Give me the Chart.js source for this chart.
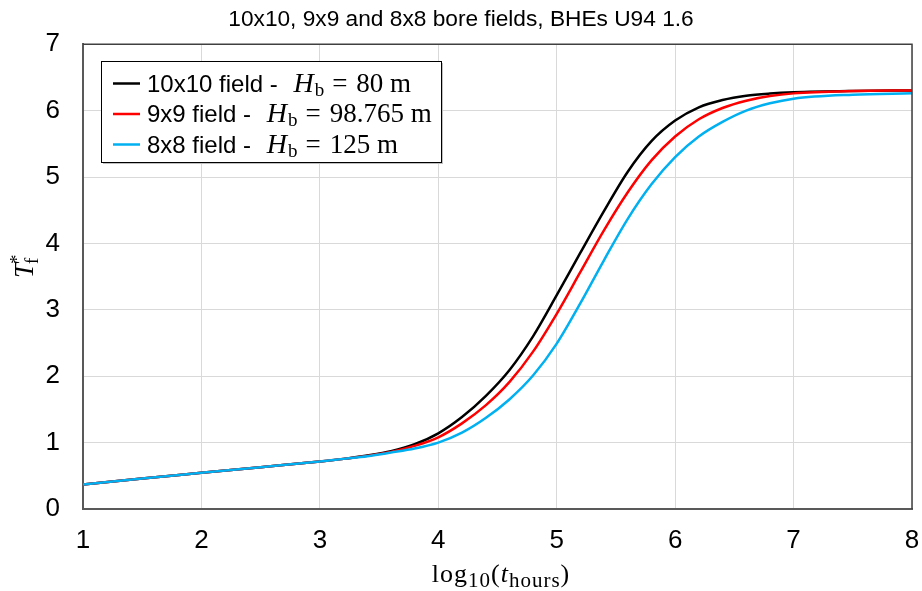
<!DOCTYPE html>
<html>
<head>
<meta charset="utf-8">
<script src="https://cdn.jsdelivr.net/npm/chart.js@4/dist/chart.umd.min.js"></script>
<style>
  body { margin: 0; background: #fff; }
</style>
</head>
<body>
<canvas id="chartBoreFields" width="922" height="591"></canvas>
<script>
// log10 of time in hours, and the dimensionless fluid temperature of each field
const logT = [1, 1.5, 2, 2.5, 3, 3.2, 3.4, 3.6, 3.8, 4, 4.2, 4.4, 4.6, 4.8, 5, 5.2, 5.4, 5.6, 5.8, 6, 6.2, 6.4, 6.6, 6.8, 7, 7.5, 8];
const field10 = [0.37, 0.46, 0.545, 0.63, 0.715, 0.755, 0.805, 0.87, 0.975, 1.14, 1.385, 1.70, 2.09, 2.60, 3.22, 3.86, 4.49, 5.08, 5.54, 5.85, 6.05, 6.16, 6.225, 6.258, 6.277, 6.297, 6.305];
const field9 = [0.37, 0.46, 0.545, 0.63, 0.715, 0.755, 0.80, 0.86, 0.95, 1.08, 1.29, 1.56, 1.91, 2.37, 2.94, 3.57, 4.20, 4.77, 5.25, 5.61, 5.87, 6.04, 6.15, 6.22, 6.26, 6.295, 6.305];
const field8 = [0.37, 0.46, 0.545, 0.63, 0.715, 0.755, 0.795, 0.85, 0.91, 1.00, 1.15, 1.37, 1.65, 2.01, 2.49, 3.10, 3.75, 4.37, 4.89, 5.30, 5.61, 5.83, 6.00, 6.11, 6.18, 6.24, 6.26];

const fieldNames = ["10x10 field", "9x9 field", "8x8 field"];
const boreDepths = ["80", "98.765", "125"];
const lineColors = ["#000000", "#ff0000", "#00b0f0"];

const toPoints = (ys) => logT.map((x, i) => ({ x: x, y: ys[i] }));
const allSeries = [field10, field9, field8];

// frame round the plot, legend box and math-style axis titles
const extras = {
  id: "extras",
  afterDatasetsDraw(chart) {
    const ctx = chart.ctx;
    const a = chart.chartArea;
    ctx.save();
    ctx.strokeStyle = "#404040";
    ctx.lineWidth = 1.5;
    ctx.beginPath();
    ctx.moveTo(a.left, a.top);
    ctx.lineTo(a.right, a.top);
    ctx.lineTo(a.right, a.bottom);
    ctx.stroke();

    // legend
    const bx = 101, by = 61, bw = 340, bh = 101;
    ctx.fillStyle = "#bfbfbf";
    ctx.fillRect(bx + 2, by + 2, bw, bh);
    ctx.fillStyle = "#fff";
    ctx.fillRect(bx, by, bw, bh);
    ctx.strokeStyle = "#000";
    ctx.lineWidth = 1;
    ctx.strokeRect(bx + 0.5, by + 0.5, bw, bh);
    const rows = [83.5, 114, 144.5];
    chart.data.datasets.forEach((ds, i) => {
      const y = rows[i];
      ctx.strokeStyle = ds.borderColor;
      ctx.lineWidth = 2.5;
      ctx.beginPath();
      ctx.moveTo(113, y);
      ctx.lineTo(140, y);
      ctx.stroke();
      ctx.fillStyle = "#000";
      ctx.textBaseline = "alphabetic";
      ctx.textAlign = "left";
      let x = 147;
      const base = y + 8;
      ctx.font = "24px 'Liberation Sans'";
      const t1 = fieldNames[i] + " - ";
      ctx.fillText(t1, x, base);
      x += ctx.measureText(t1).width + 9;
      ctx.font = "italic 28px 'Liberation Serif'";
      ctx.fillText("H", x, base);
      x += ctx.measureText("H").width + 1;
      ctx.font = "19px 'Liberation Serif'";
      ctx.fillText("b", x, base + 4);
      x += ctx.measureText("b").width + 8;
      ctx.font = "27px 'Liberation Serif'";
      ctx.fillText("=", x, base);
      x += ctx.measureText("=").width + 9;
      ctx.fillText(boreDepths[i] + " m", x, base);
    });

    // x axis title: log10(t_hours)
    ctx.fillStyle = "#000";
    ctx.textAlign = "left";
    ctx.letterSpacing = "1px";
    const parts = [
      ["log", "26px 'Liberation Serif'", 0],
      ["10", "21px 'Liberation Serif'", 5],
      ["(", "26px 'Liberation Serif'", 0],
      ["t", "italic 26px 'Liberation Serif'", 0],
      ["hours", "21px 'Liberation Serif'", 5],
      [")", "26px 'Liberation Serif'", 0]
    ];
    let w = 0;
    parts.forEach((p) => { ctx.font = p[1]; w += ctx.measureText(p[0]).width; });
    let px = 501 - w / 2;
    parts.forEach((p) => {
      ctx.font = p[1];
      ctx.fillText(p[0], px, 582 + p[2]);
      px += ctx.measureText(p[0]).width;
    });
    ctx.letterSpacing = "0px";

    // y axis title: T_f^*
    ctx.translate(33, 268);
    ctx.rotate(-Math.PI / 2);
    ctx.font = "italic 27px 'Liberation Serif'";
    ctx.fillText("T", -10, 0);
    const tw = ctx.measureText("T").width;
    ctx.font = "19px 'Liberation Serif'";
    ctx.fillText("f", -11 + tw, 5);
    ctx.fillText("*", -11 + tw, -10);
    ctx.restore();
  }
};

const chartBoreFields = document.getElementById("chartBoreFields");
new Chart(chartBoreFields, {
  type: "line",
  data: {
    datasets: allSeries.map((ys, i) => ({
      label: fieldNames[i] + " - Hb = " + boreDepths[i] + " m",
      data: toPoints(ys),
      borderColor: lineColors[i],
      borderWidth: 2.5,
      pointRadius: 0,
      cubicInterpolationMode: "monotone",
      fill: false,
      order: 3 - i
    }))
  },
  options: {
    responsive: false,
    animation: false,
    devicePixelRatio: 1,
    layout: { padding: 0 },
    plugins: {
      legend: { display: false },
      tooltip: { enabled: false },
      title: {
        display: true,
        text: "10x10, 9x9 and 8x8 bore fields, BHEs U94 1.6",
        color: "#000",
        font: { family: "'Liberation Sans'", size: 22.7, weight: "normal" },
        padding: { top: 6, bottom: 11 }
      }
    },
    scales: {
      x: {
        type: "linear",
        min: 1,
        max: 8,
        ticks: { stepSize: 1, color: "#000", padding: 16, font: { family: "'Liberation Sans'", size: 26 } },
        grid: { color: "#d9d9d9", lineWidth: 1, drawTicks: false },
        border: { color: "#595959", width: 2 },
        afterFit: (scale) => { scale.height = 82; scale.paddingRight = 10; scale.paddingLeft = 0; }
      },
      y: {
        min: 0,
        max: 7,
        ticks: { stepSize: 1, color: "#000", padding: 23, font: { family: "'Liberation Sans'", size: 26 } },
        grid: { color: "#d9d9d9", lineWidth: 1, drawTicks: false },
        border: { color: "#595959", width: 2 },
        afterFit: (scale) => { scale.width = 83; }
      }
    }
  },
  plugins: [extras]
});
</script>
</body>
</html>
